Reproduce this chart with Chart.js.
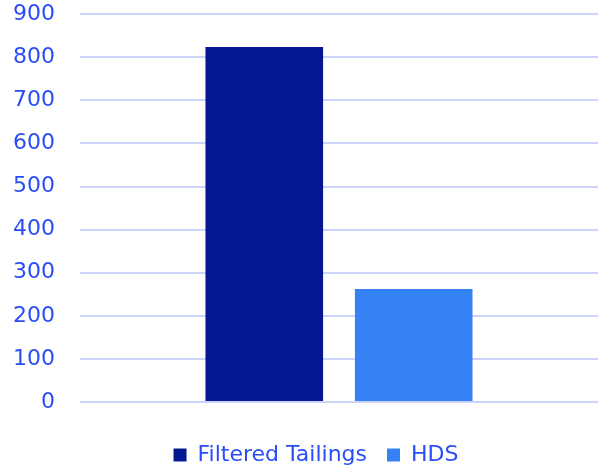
<!DOCTYPE html>
<html>
<head>
<meta charset="utf-8">
<script src="https://cdn.jsdelivr.net/npm/chart.js@4"></script>
<style>
  html, body { margin: 0; padding: 0; background: #fff; }
  canvas { display: block; }
</style>
</head>
<body>
<canvas id="tailingsChart" width="598" height="467"></canvas>
<script>
const categories = [''];
const seriesNames = ['Filtered Tailings', 'HDS'];
const filteredTailings = [824];
const hds = [262];
const yTicks = [0, 100, 200, 300, 400, 500, 600, 700, 800, 900];

Chart.defaults.font.family = 'DejaVu Sans';
Chart.defaults.font.size = 22;
Chart.defaults.color = '#2b4df7';

// legend in the original sits a bit right of the canvas centre
const legendShift = {
    id: 'legendShift',
    afterLayout(chart) {
        chart.legend.left += 11;
        chart.legend.right += 11;
    }
};

const ctx = document.getElementById('tailingsChart').getContext('2d');
new Chart(ctx, {
    type: 'bar',
    data: {
        labels: categories,
        datasets: [{
            label: seriesNames[0],
            data: filteredTailings,
            backgroundColor: '#041891',
            categoryPercentage: 0.577,
            barPercentage: 0.787
        }, {
            label: seriesNames[1],
            data: hds,
            backgroundColor: '#3582f5',
            categoryPercentage: 0.577,
            barPercentage: 0.787
        }]
    },
    options: {
        responsive: false,
        animation: false,
        layout: {
            padding: { top: 2, left: 12, right: 0, bottom: -9 }
        },
        scales: {
            x: {
                ticks: { display: false },
                grid: { display: false },
                border: { display: false },
                afterFit: s => { s.height = 22; }
            },
            y: {
                min: 0,
                max: 900,
                afterBuildTicks: axis => {
                    axis.ticks = yTicks.map(v => ({ value: v }));
                },
                ticks: { padding: 1 },
                grid: {
                    color: '#cdd3fb',
                    lineWidth: 2,
                    drawTicks: true,
                    tickLength: 24,
                    tickColor: 'rgba(0,0,0,0)'
                },
                border: { display: false }
            }
        },
        plugins: {
            legend: {
                position: 'bottom',
                labels: {
                    boxWidth: 13,
                    boxHeight: 13,
                    padding: 20
                }
            },
            tooltip: { enabled: false }
        }
    },
    plugins: [legendShift]
});
</script>
</body>
</html>
